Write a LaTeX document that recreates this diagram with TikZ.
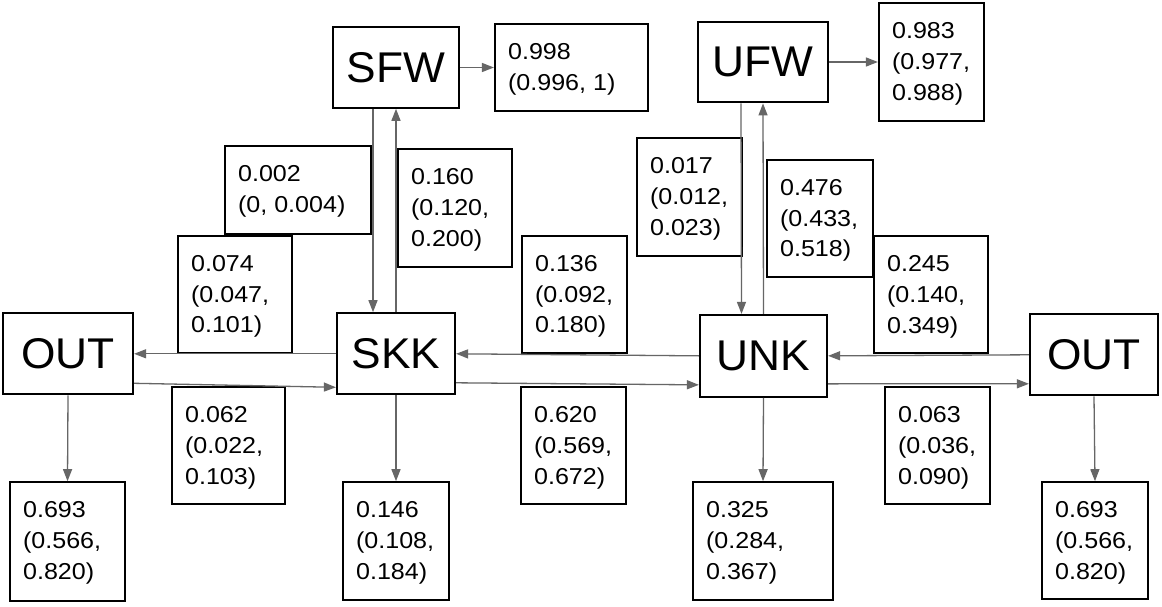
\documentclass[tikz,border=0pt]{standalone}
\usepackage{fontspec}
\setmainfont{Liberation Sans}
\newfontfamily\valfont[FakeStretch=1.09]{Liberation Sans}
\newfontfamily\bigfont[FakeStretch=1.03]{Liberation Sans}
\usetikzlibrary{fit,arrows.meta}
\definecolor{arrowgray}{HTML}{666666}
\begin{document}
\begin{tikzpicture}[x=1pt,y=-1pt,
  box/.style={draw=black,line width=2.2pt,inner sep=0pt,rectangle},
  valtxt/.style={anchor=north west,inner sep=0pt,align=left,font=\valfont\fontsize{23}{30.7}\selectfont},
  bigtxt/.style={font=\bigfont\fontsize{43}{50}\selectfont},
  conn/.style={draw=arrowgray,line width=1.3pt,-{Triangle[length=12pt,width=9pt]}}]
\useasboundingbox (0,0) rectangle (1162,607);
\fill[white] (0,0) rectangle (1162,607);

% main state boxes
\node[box,fit={(333,27.3) (459,107.7)}] (SFW) {};
\node[bigtxt] (tSFW) at (SFW.center) {SFW};
\node[box,fit={(698,21.7) (828,102.3)}] (UFW) {};
\node[bigtxt] (tUFW) at (UFW.center) {UFW};
\node[box,fit={(3,313.3) (133,394.3)}] (OUTL) {};
\node[bigtxt] (tOUTL) at (OUTL.center) {OUT};
\node[box,fit={(337,313.3) (455,394.3)}] (SKK) {};
\node[bigtxt] (tSKK) at (SKK.center) {SKK};
\node[box,fit={(700,315) (827,396.7)}] (UNK) {};
\node[bigtxt] (tUNK) at (UNK.center) {UNK};
\node[box,fit={(1030,314.3) (1158,395.3)}] (OUTR) {};
\node[bigtxt] (tOUTR) at (OUTR.center) {OUT};

% value boxes
\node[box,fit={(495,24) (648,111)}] (vSFW) {};
\node[valtxt] (tvSFW) at ([shift={(14pt,-20.5pt)}]vSFW.north west) {0.998\\(0.996, 1)};
\node[box,fit={(879,3) (984,121)}] (vUFW) {};
\node[valtxt] (tvUFW) at ([shift={(14pt,-20.5pt)}]vUFW.north west) {0.983\\(0.977,\\0.988)};
\node[box,fit={(225,146.3) (371,233.7)}] (b002) {};
\node[valtxt] (t002) at ([shift={(14pt,-20.5pt)}]b002.north west) {0.002\\(0, 0.004)};
\node[box,fit={(398,149) (512,266.7)}] (b160) {};
\node[valtxt] (t160) at ([shift={(14pt,-20.5pt)}]b160.north west) {0.160\\(0.120,\\0.200)};
\node[box,fit={(178,235.7) (292,353.3)}] (b074) {};
\node[valtxt] (t074) at ([shift={(14pt,-20.5pt)}]b074.north west) {0.074\\(0.047,\\0.101)};
\node[box,fit={(522,235.7) (627,353.3)}] (b136) {};
\node[valtxt] (t136) at ([shift={(14pt,-20.5pt)}]b136.north west) {0.136\\(0.092,\\0.180)};
\node[box,fit={(637,138.3) (742,256.3)}] (b017) {};
\node[valtxt] (t017) at ([shift={(14pt,-20.5pt)}]b017.north west) {0.017\\(0.012,\\0.023)};
\node[box,fit={(767,159.7) (873,276.7)}] (b476) {};
\node[valtxt] (t476) at ([shift={(14pt,-20.5pt)}]b476.north west) {0.476\\(0.433,\\0.518)};
\node[box,fit={(874,236) (988,352.7)}] (b245) {};
\node[valtxt] (t245) at ([shift={(14pt,-20.5pt)}]b245.north west) {0.245\\(0.140,\\0.349)};
\node[box,fit={(172,387) (285,504.3)}] (b062) {};
\node[valtxt] (t062) at ([shift={(14pt,-20.5pt)}]b062.north west) {0.062\\(0.022,\\0.103)};
\node[box,fit={(521,387) (626,504.3)}] (b620) {};
\node[valtxt] (t620) at ([shift={(14pt,-20.5pt)}]b620.north west) {0.620\\(0.569,\\0.672)};
\node[box,fit={(885,387) (990,504.3)}] (b063) {};
\node[valtxt] (t063) at ([shift={(14pt,-20.5pt)}]b063.north west) {0.063\\(0.036,\\0.090)};
\node[box,fit={(10,482.3) (125,600.7)}] (vOUTL) {};
\node[valtxt] (tvOUTL) at ([shift={(14pt,-20.5pt)}]vOUTL.north west) {0.693\\(0.566,\\0.820)};
\node[box,fit={(343,482.3) (449,600)}] (vSKK) {};
\node[valtxt] (tvSKK) at ([shift={(14pt,-20.5pt)}]vSKK.north west) {0.146\\(0.108,\\0.184)};
\node[box,fit={(693,482.3) (833,600)}] (vUNK) {};
\node[valtxt] (tvUNK) at ([shift={(14pt,-20.5pt)}]vUNK.north west) {0.325\\(0.284,\\0.367)};
\node[box,fit={(1042,482.3) (1148,599.3)}] (vOUTR) {};
\node[valtxt] (tvOUTR) at ([shift={(14pt,-20.5pt)}]vOUTR.north west) {0.693\\(0.566,\\0.820)};

% connectors
\draw[conn] (SFW.east) -- (vSFW.west);
\draw[conn] (UFW.east) -- (vUFW.west);
\draw[conn] ([xshift=-23pt]SFW.south) -- ([xshift=-23pt]SKK.north);
\draw[conn] (SKK.north) -- (SFW.south);
\draw[conn] ([xshift=-22pt]UFW.south) -- ([xshift=-22pt]UNK.north);
\draw[conn] (UNK.north) -- (UFW.south);
\draw[conn] (SKK.west) -- (OUTL.east);
\draw[conn] ([yshift=-29.5pt]OUTL.east) -- ([yshift=-33.5pt]SKK.west);
\draw[conn] (UNK.west) -- (SKK.east);
\draw[conn] ([yshift=-29pt]SKK.east) -- ([yshift=-29pt]UNK.west);
\draw[conn] (OUTR.west) -- (UNK.east);
\draw[conn] ([yshift=-28pt]UNK.east) -- ([yshift=-29pt]OUTR.west);
\draw[conn] (OUTL.south) -- (vOUTL.north);
\draw[conn] (SKK.south) -- (vSKK.north);
\draw[conn] (UNK.south) -- (vUNK.north);
\draw[conn] (OUTR.south) -- (vOUTR.north);
\end{tikzpicture}
\end{document}
